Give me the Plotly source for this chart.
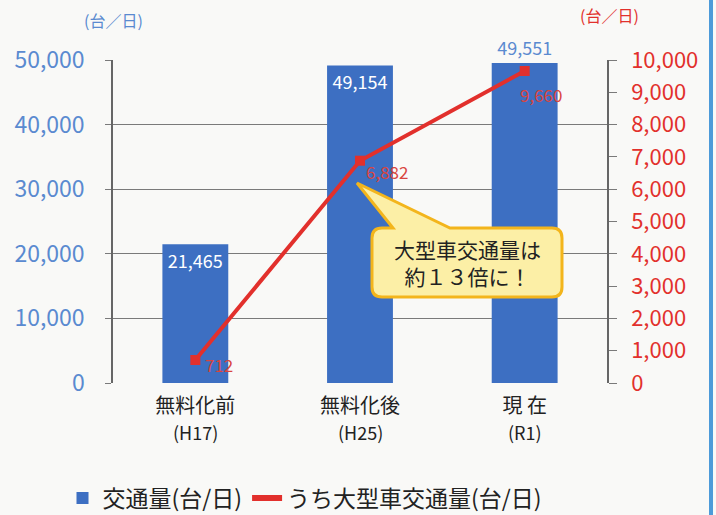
import plotly.graph_objects as go

categories = ["無料化前", "無料化後", "現 在"]
periods = ["(H17)", "(H25)", "(R1)"]
total_traffic = [21465, 49154, 49551]
large_traffic = [712, 6882, 9660]

left_ticks = [0, 10000, 20000, 30000, 40000, 50000]
right_ticks = list(range(0, 10001, 1000))

FONT = "Noto Sans CJK JP"
BLUE = "#3d6fc2"
RED = "#e2302c"
AXBLUE = "#5a8ad0"

# plot-area pixel geometry (used only for decorations)
L, R, T, B = 113, 607, 60, 383
W, H = 716, 515


def px(x):
    return (x - L) / (R - L)


def py(y):
    return (B - y) / (B - T)


fig = go.Figure()

fig.add_trace(go.Bar(
    x=categories, y=total_traffic, name="交通量(台/日)",
    marker=dict(color=BLUE, line=dict(width=0)), width=0.4,
    texttemplate="%{y:,}", textposition=["inside", "inside", "outside"],
    insidetextanchor="end", textangle=0,
    textfont=dict(color=["white", "white", AXBLUE], size=18, family=FONT),
    cliponaxis=False, showlegend=True,
))

fig.add_trace(go.Scatter(
    x=categories, y=large_traffic, yaxis="y2", mode="lines+markers",
    line=dict(color=RED, width=4), marker=dict(symbol="square", size=10, color=RED),
    showlegend=False, cliponaxis=False,
))

fig.add_trace(go.Scatter(
    x=[None], y=[None], yaxis="y2", mode="lines", name="うち大型車交通量(台/日)",
    line=dict(color=RED, width=6),
))

# labels of the large-vehicle line
label_shift = [(24, -4), (27, -11), (16, -24)]
for c, v, (dx, dy) in zip(categories, large_traffic, label_shift):
    fig.add_annotation(x=c, y=v, xref="x", yref="y2", text=f"{v:,}",
                       showarrow=False, xshift=dx, yshift=dy,
                       xanchor="center", yanchor="middle",
                       font=dict(size=17, color="#d9453f", family=FONT))

# second line of category labels
for c, p in zip(categories, periods):
    fig.add_annotation(x=c, y=py(432), xref="x", yref="paper", text=p,
                       showarrow=False, xanchor="center", yanchor="middle",
                       font=dict(size=18, color="#222", family=FONT))

# callout shape (rounded box + pointer)
bx0, bx1, by0, by1, r = 372, 562, 228, 297, 10
tip = (357, 183)
base_l, base_r = 393, 450
path = (
    f"M {px(bx0 + r)},{py(by0)} "
    f"L {px(base_l)},{py(by0)} L {px(tip[0])},{py(tip[1])} L {px(base_r)},{py(by0)} "
    f"L {px(bx1 - r)},{py(by0)} Q {px(bx1)},{py(by0)} {px(bx1)},{py(by0 + r)} "
    f"L {px(bx1)},{py(by1 - r)} Q {px(bx1)},{py(by1)} {px(bx1 - r)},{py(by1)} "
    f"L {px(bx0 + r)},{py(by1)} Q {px(bx0)},{py(by1)} {px(bx0)},{py(by1 - r)} "
    f"L {px(bx0)},{py(by0 + r)} Q {px(bx0)},{py(by0)} {px(bx0 + r)},{py(by0)} Z"
)
fig.add_shape(type="path", path=path, xref="paper", yref="paper",
              fillcolor="#fcefa6", line=dict(color="#f3b51c", width=3), layer="above")

# right border line
fig.add_shape(type="line", xref="paper", yref="paper",
              x0=px(711), x1=px(711), y0=py(515), y1=py(0),
              line=dict(color="#4d9bd9", width=4))

fig.add_annotation(x=px(467), y=py(262), xref="paper", yref="paper",
                   xanchor="center", yanchor="middle", align="center",
                   text="大型車交通量は<br>約１３倍に！", showarrow=False,
                   font=dict(size=21, color="#222", family=FONT))

fig.add_annotation(x=px(113), y=py(20), xref="paper", yref="paper",
                   xanchor="center", yanchor="middle", text="(台／日)", showarrow=False,
                   font=dict(size=16, color=AXBLUE, family=FONT))
fig.add_annotation(x=px(609), y=py(15), xref="paper", yref="paper",
                   xanchor="center", yanchor="middle", text="(台／日)", showarrow=False,
                   font=dict(size=16, color=RED, family=FONT))

fig.update_layout(
    width=W, height=H,
    margin=dict(l=L, r=W - R, t=T, b=H - B, autoexpand=False),
    paper_bgcolor="#f9f9f7", plot_bgcolor="#f9f9f7",
    font=dict(family=FONT),
    xaxis=dict(range=[-0.5, 2.5], showgrid=False, showline=False, ticks="",
               automargin=False, ticklabelstandoff=9,
               tickfont=dict(size=20, color="#222", family=FONT)),
    yaxis=dict(range=[0, 50000], tickvals=left_ticks, tickformat=",",
               showgrid=True, gridcolor="#7a7a7a", gridwidth=1.3,
               showline=True, linecolor="#666", linewidth=1.5,
               ticks="outside", ticklen=6, tickcolor="#7a7a7a",
               ticklabelstandoff=16, automargin=False,
               tickfont=dict(size=23, color=AXBLUE, family=FONT),
               zeroline=False),
    yaxis2=dict(range=[0, 10000], tickvals=right_ticks, tickformat=",",
                overlaying="y", side="right", showgrid=False,
                showline=True, linecolor="#666", linewidth=1.5,
                ticks="outside", ticklen=8, tickcolor="#7a7a7a",
                ticklabelstandoff=10, automargin=False,
                tickfont=dict(size=22, color=RED, family=FONT),
                zeroline=False),
    legend=dict(orientation="h", x=305 / W, xref="container", xanchor="center",
                y=(H - 498) / H, yref="container", yanchor="middle",
                font=dict(size=23, color="#222", family=FONT),
                bgcolor="rgba(0,0,0,0)"),
)

fig.write_html("out.html", config={"displayModeBar": False},
               post_script="document.body.style.margin='0';")
